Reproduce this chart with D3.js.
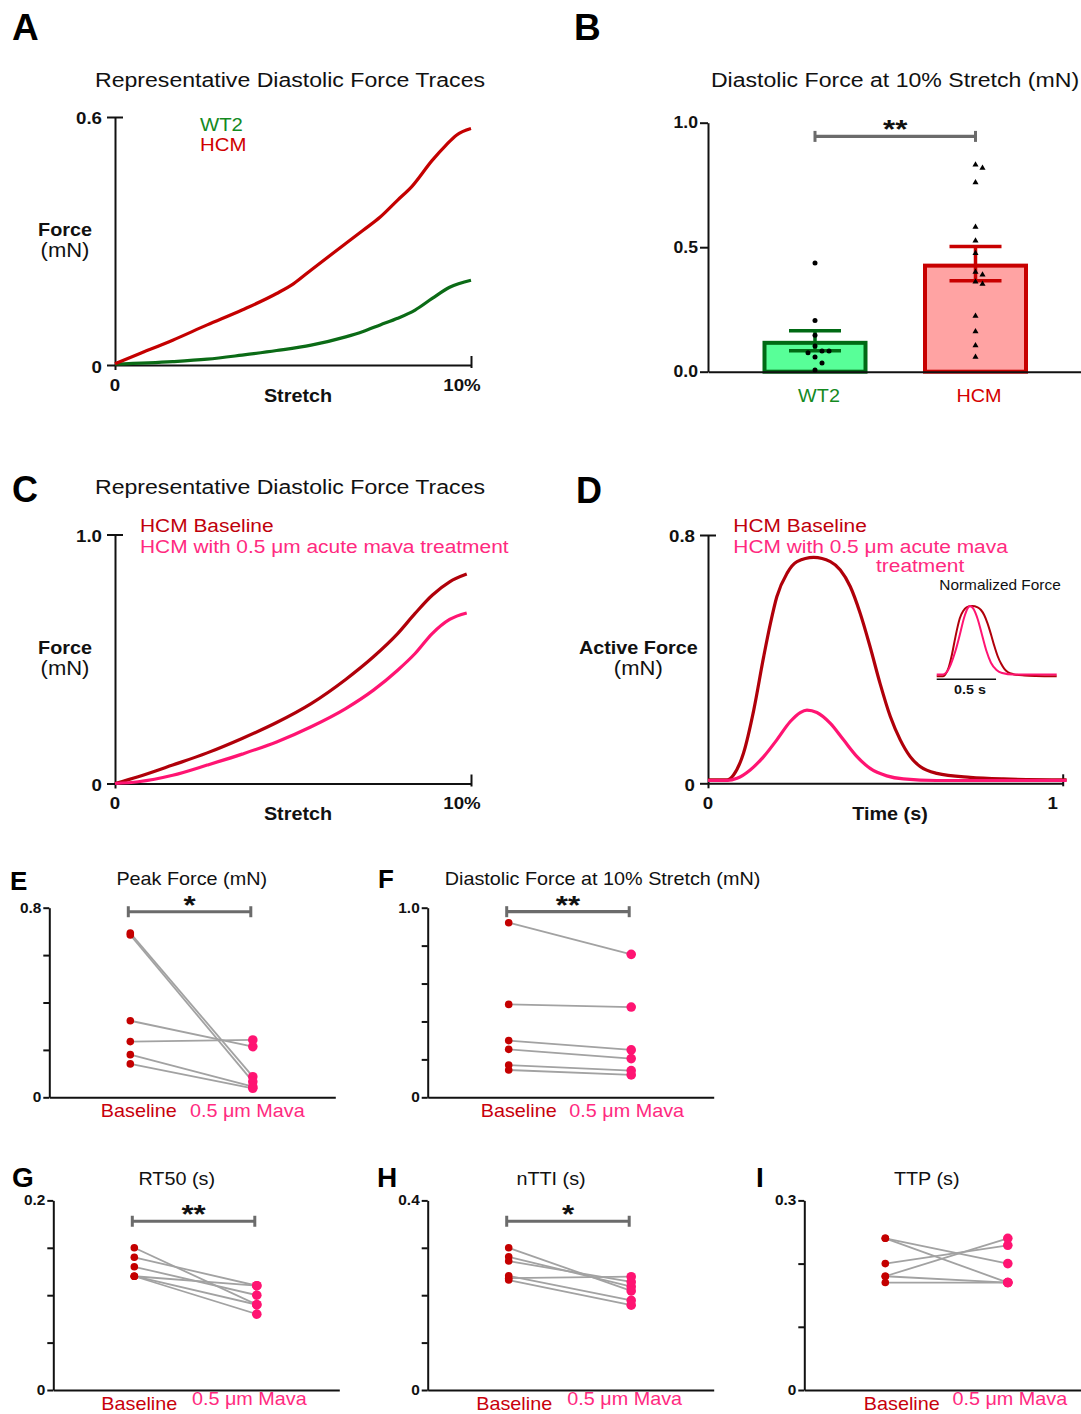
<!DOCTYPE html>
<html>
<head>
<meta charset="utf-8">
<script src="https://cdn.jsdelivr.net/npm/d3@7"></script>
<style>
  body { margin: 0; background: #fff; }
  svg { display: block; }
</style>
</head>
<body>
<script>
// ---- data ----

// A: representative diastolic force traces (stretch %, force mN)
const stretchA_hcm = [0, 0.65, 1.62, 2.59, 3.57, 4.54, 5.02, 5.51, 6.48, 6.97, 7.45, 7.94, 8.33, 8.91, 9.30, 9.59, 10.0];
const forceA_hcm   = [0.003, 0.026, 0.060, 0.097, 0.133, 0.173, 0.197, 0.230, 0.294, 0.326, 0.358, 0.399, 0.431, 0.495, 0.532, 0.556, 0.572];
const stretchA_wt  = [0, 1.62, 2.59, 3.57, 4.54, 5.51, 6.48, 6.97, 7.45, 7.94, 8.43, 8.91, 9.40, 10.0];
const forceA_wt    = [0.002, 0.008, 0.014, 0.024, 0.035, 0.048, 0.068, 0.081, 0.097, 0.113, 0.133, 0.161, 0.188, 0.205];

// B: diastolic force at 10% stretch
const groupsB = ["WT2", "HCM"];
const meanB = [0.124, 0.434];
const semB = [0.040, 0.069];
const wt2Points = [0.437, 0.206, 0.146, 0.103, 0.083, 0.076, 0.083, 0.059, 0.035, 0.007];
const hcmPoints = [0.831, 0.818, 0.760, 0.581, 0.526, 0.476, 0.400, 0.389, 0.361, 0.352, 0.224, 0.161, 0.105, 0.059];

// C: HCM baseline vs mava, diastolic traces
const stretchC = [0, 0.65, 1.62, 2.59, 3.57, 4.54, 5.51, 6.48, 7.26, 7.94, 8.43, 8.91, 9.40, 9.88];
const forceC_base = [0, 0.027, 0.074, 0.123, 0.181, 0.245, 0.321, 0.418, 0.509, 0.602, 0.683, 0.756, 0.810, 0.841];
const forceC_mava = [0, 0.007, 0.033, 0.074, 0.118, 0.167, 0.228, 0.301, 0.375, 0.455, 0.522, 0.602, 0.659, 0.685];

// D: active force twitch (time s, force mN)
const timeD_base  = [0, 0.054, 0.072, 0.100, 0.129, 0.157, 0.176, 0.194, 0.223, 0.251, 0.298, 0.345, 0.373, 0.401, 0.429, 0.457, 0.485, 0.514, 0.542, 0.570, 0.598, 0.645, 0.739, 0.833, 1.011];
const forceD_base = [0.011, 0.011, 0.027, 0.097, 0.236, 0.408, 0.515, 0.601, 0.677, 0.714, 0.728, 0.714, 0.687, 0.634, 0.548, 0.440, 0.322, 0.215, 0.140, 0.086, 0.054, 0.032, 0.019, 0.014, 0.011];
const timeD_mava  = [0, 0.054, 0.082, 0.119, 0.157, 0.194, 0.232, 0.260, 0.279, 0.307, 0.345, 0.382, 0.420, 0.457, 0.504, 0.551, 0.645, 1.011];
const forceD_mava = [0.009, 0.009, 0.016, 0.043, 0.086, 0.140, 0.199, 0.228, 0.236, 0.228, 0.193, 0.140, 0.086, 0.048, 0.024, 0.014, 0.009, 0.009];

// E-I: paired baseline / mava values
const pairLabels = ["Baseline", "0.5 μm Mava"];
const peakBase  = [0.693, 0.685, 0.323, 0.235, 0.180, 0.141];
const peakMava  = [0.087, 0.066, 0.214, 0.242, 0.045, 0.038];
const diastBase = [0.921, 0.490, 0.299, 0.253, 0.170, 0.144];
const diastMava = [0.754, 0.476, 0.250, 0.204, 0.141, 0.118];
const rt50Base  = [0.150, 0.140, 0.130, 0.120, 0.120, 0.120];
const rt50Mava  = [0.090, 0.110, 0.100, 0.110, 0.090, 0.080];
const nttiBase  = [0.300, 0.281, 0.272, 0.241, 0.236, 0.232];
const nttiMava  = [0.209, 0.218, 0.228, 0.189, 0.239, 0.179];
const ttpBase   = [0.240, 0.240, 0.200, 0.180, 0.180, 0.170];
const ttpMava   = [0.200, 0.170, 0.229, 0.240, 0.170, 0.170];

// ---- styling ----
const FONT = "'Liberation Sans', Arial, Helvetica, sans-serif";
const GREEN_LINE = "#0b6b16", GREEN_TXT = "#148a1f";
const RED = "#c40000", DARK_RED = "#b0000a", PINK = "#ff1472", PINK_TXT = "#ff2a80";
const GRAY = "#a2a2a2", SIG = "#6b6b6b";

const svg = d3.select("body").append("svg").attr("width", 1081).attr("height", 1414);

function text(g, x, y, s, o = {}) {
  return g.append("text")
    .attr("transform", `translate(${x},${y}) scale(${o.sx ?? 1.1},1)`)
    .attr("text-anchor", o.anchor || "middle")
    .style("font-family", FONT)
    .style("font-size", (o.size || 18) + "px")
    .style("font-weight", o.bold ? "bold" : "normal")
    .attr("fill", o.fill || "#111")
    .text(s);
}

function letter(x, y, s, size) {
  text(svg, x, y, s, { anchor: "start", size: size, bold: true, sx: 1, fill: "#000" });
}

function styleAxis(sel) {
  sel.selectAll("path, line").attr("stroke", "#111").attr("stroke-width", 2);
}

function sigBar(g, x1, x2, yy, stars) {
  g.append("line").attr("x1", x1).attr("x2", x2).attr("y1", yy).attr("y2", yy)
    .attr("stroke", SIG).attr("stroke-width", 3.2);
  [x1, x2].forEach(xx => g.append("line").attr("x1", xx).attr("x2", xx)
    .attr("y1", yy - 5.5).attr("y2", yy + 5.5).attr("stroke", SIG).attr("stroke-width", 3));
  text(g, (x1 + x2) / 2, yy + 2, stars, { size: 26, bold: true, sx: 1.2, fill: "#111" });
}

// ---- trace panels (A, C, D) ----
function tracePanel(o) {
  const g = svg.append("g");
  const x = d3.scaleLinear().domain([0, o.xmax]).range(o.xRange);
  const y = d3.scaleLinear().domain([0, o.ymax]).range([o.y0, o.ytop]);

  g.append("g").attr("transform", `translate(${o.xRange[0]},0)`)
    .call(d3.axisLeft(y).tickValues([0, o.ymax]).tickSize(8).tickSizeOuter(0).tickFormat(""))
    .call(styleAxis)
    .call(a => a.selectAll(".tick line").attr("x1", d => d === o.ymax ? 8 : 0));

  g.append("g").attr("transform", `translate(0,${o.y0})`)
    .call(d3.axisBottom(x).tickValues([0, o.xmax]).tickSize(5).tickSizeOuter(0).tickFormat(""))
    .call(styleAxis)
    .call(a => a.selectAll(".tick line").attr("y1", d => d === o.xmax ? -9 : 0).attr("y2", d => d === o.xmax ? 3 : 5));

  const line = d3.line().x(d => x(d[0])).y(d => y(d[1])).curve(d3.curveMonotoneX);
  o.series.forEach(s => {
    g.append("path").datum(d3.zip(s.x, s.y)).attr("d", line)
      .attr("fill", "none").attr("stroke", s.color).attr("stroke-width", 3.2)
      .attr("stroke-linejoin", "round");
  });

  const ax = o.xRange[0];
  text(g, ax - 13, y(o.ymax) + 7, o.ymaxLabel, { anchor: "end", size: 17, bold: true });
  text(g, ax - 13, y(0) + 7.5, "0", { anchor: "end", size: 17, bold: true });
  text(g, x(0), o.y0 + 25.5, "0", { size: 17, bold: true });
  text(g, x(o.xmax) - o.endShift, o.y0 + 25.5, o.xmaxLabel, { size: 17, bold: true });
  text(g, o.xTitleX, o.y0 + 36.5, o.xTitle, { size: 18, bold: true });
  text(g, o.yTitleX, o.y0 - 129.5, o.yTitle, { size: 18, bold: true });
  text(g, o.yTitleX, o.y0 - 108.5, "(mN)", { size: 20 });
  return { g, x, y };
}

// A
letter(12, 40, "A", 37);
text(svg, 290, 87, "Representative Diastolic Force Traces", { size: 21 });
tracePanel({
  xmax: 10, xRange: [115, 471], ymax: 0.6, y0: 365, ytop: 117,
  ymaxLabel: "0.6", xmaxLabel: "10%", endShift: 9,
  xTitle: "Stretch", xTitleX: 298, yTitle: "Force", yTitleX: 65,
  series: [
    { x: stretchA_wt, y: forceA_wt, color: GREEN_LINE },
    { x: stretchA_hcm, y: forceA_hcm, color: RED }
  ]
});
text(svg, 200, 130.7, "WT2", { anchor: "start", size: 18.5, fill: GREEN_TXT });
text(svg, 200, 150.5, "HCM", { anchor: "start", size: 18.5, fill: "#d00000" });

// C
letter(12, 501.7, "C", 36);
text(svg, 290, 494, "Representative Diastolic Force Traces", { size: 21 });
tracePanel({
  xmax: 10, xRange: [115, 471], ymax: 1.0, y0: 783.5, ytop: 534.5,
  ymaxLabel: "1.0", xmaxLabel: "10%", endShift: 9,
  xTitle: "Stretch", xTitleX: 298, yTitle: "Force", yTitleX: 65,
  series: [
    { x: stretchC, y: forceC_base, color: DARK_RED },
    { x: stretchC, y: forceC_mava, color: PINK }
  ]
});
text(svg, 140, 531.7, "HCM Baseline", { anchor: "start", size: 19, fill: "#c0000c" });
text(svg, 140, 552.7, "HCM with 0.5 μm acute mava treatment", { anchor: "start", size: 19, fill: PINK_TXT });

// D
letter(576, 502.7, "D", 36);
tracePanel({
  xmax: 1, xRange: [708, 1062.7], ymax: 0.8, y0: 783.3, ytop: 535,
  ymaxLabel: "0.8", xmaxLabel: "1", endShift: 10,
  xTitle: "Time (s)", xTitleX: 890, yTitle: "Active Force", yTitleX: 638.3,
  series: [
    { x: timeD_base, y: forceD_base, color: DARK_RED },
    { x: timeD_mava, y: forceD_mava, color: PINK }
  ]
});
text(svg, 733.3, 531.7, "HCM Baseline", { anchor: "start", size: 19, fill: "#c0000c" });
text(svg, 733.3, 552.7, "HCM with 0.5 μm acute mava", { anchor: "start", size: 19, fill: PINK_TXT });
text(svg, 876, 571.7, "treatment", { anchor: "start", size: 19, fill: PINK_TXT });

// D inset: same traces normalised to their own peak
{
  const g = svg.append("g");
  const xi = d3.scaleLinear().domain([0, 1]).range([936.7, 936.7 + 118.7]);
  const yi = d3.scaleLinear().domain([0, 1]).range([677.3, 606]);
  const lineI = d3.line().x(d => xi(d[0])).y(d => yi(d[1])).curve(d3.curveMonotoneX);
  [[timeD_base, forceD_base, DARK_RED], [timeD_mava, forceD_mava, PINK]].forEach(([t, f, c]) => {
    const peak = d3.max(f);
    g.append("path").datum(d3.zip(t, f.map(v => v / peak))).attr("d", lineI)
      .attr("fill", "none").attr("stroke", c).attr("stroke-width", 2);
  });
  g.append("line").attr("x1", xi(0)).attr("x2", xi(0.5)).attr("y1", yi(0) + 2).attr("y2", yi(0) + 2)
    .attr("stroke", "#111").attr("stroke-width", 1.5);
  text(g, xi(0.28), 694, "0.5 s", { size: 13, bold: true });
  text(g, 1000, 590, "Normalized Force", { size: 14 });
}

// ---- B: bar chart ----
letter(574, 40, "B", 37);
text(svg, 895, 87, "Diastolic Force at 10% Stretch (mN)", { size: 21 });
{
  const g = svg.append("g");
  const y = d3.scaleLinear().domain([0, 1]).range([371.7, 122.7]);
  const x = d3.scalePoint().domain(groupsB).range([815, 975.5]);
  const xl = d3.scaleLinear().domain([0, 1]).range([708, 1081]);
  const fills = ["#58ff98", "#ffa3a3"];
  const strokes = ["#006a14", "#c80000"];
  const bw = 101;

  g.append("g").attr("transform", "translate(708,0)")
    .call(d3.axisLeft(y).tickValues([0, 0.5, 1]).tickSize(8).tickSizeOuter(0).tickFormat(""))
    .call(styleAxis);

  const bars = groupsB.map((k, i) => ({ k, mean: meanB[i], sem: semB[i], fill: fills[i], stroke: strokes[i] }));
  g.selectAll(".bar").data(bars).join("rect").attr("class", "bar")
    .attr("x", d => x(d.k) - bw / 2).attr("width", bw)
    .attr("y", d => y(d.mean) + 2).attr("height", d => y(0) - y(d.mean) - 2)
    .attr("fill", d => d.fill).attr("stroke", d => d.stroke).attr("stroke-width", 4);

  g.append("g").attr("transform", "translate(0,371.7)")
    .call(d3.axisBottom(xl).tickValues([]).tickSizeOuter(0))
    .call(styleAxis);

  bars.forEach(d => {
    const cx = x(d.k);
    g.append("line").attr("x1", cx).attr("x2", cx).attr("y1", y(d.mean - d.sem)).attr("y2", y(d.mean + d.sem))
      .attr("stroke", d.stroke).attr("stroke-width", 3.5);
    [d.mean - d.sem, d.mean + d.sem].forEach(v => g.append("line")
      .attr("x1", cx - 26).attr("x2", cx + 26).attr("y1", y(v)).attr("y2", y(v))
      .attr("stroke", d.stroke).attr("stroke-width", 3.5));
  });

  function dodge(values, d) {
    const placed = [];
    return values.map(v => {
      const py = y(v);
      for (let k = 0; k < 20; k++) {
        const off = k === 0 ? 0 : (k % 2 ? 1 : -1) * Math.ceil(k / 2) * d;
        if (placed.every(p => Math.hypot(p[0] - off, p[1] - py) >= d)) { placed.push([off, py]); return off; }
      }
      return 0;
    });
  }
  const offW = dodge(wt2Points, 7);
  g.selectAll(".wt").data(wt2Points).join("circle").attr("class", "wt")
    .attr("cx", (d, i) => x("WT2") + offW[i]).attr("cy", d => y(d)).attr("r", 2.5).attr("fill", "#000");
  const offH = dodge(hcmPoints, 7);
  g.selectAll(".hcm").data(hcmPoints).join("path").attr("class", "hcm")
    .attr("transform", (d, i) => `translate(${x("HCM") + offH[i]},${y(d)})`)
    .attr("d", d3.symbol(d3.symbolTriangle, 16)).attr("fill", "#000");

  sigBar(g, x("WT2"), x("HCM"), y(0.945), "**");

  [0, 0.5, 1].forEach(v => text(g, 698, y(v) + 5.7, d3.format(".1f")(v), { anchor: "end", size: 16, bold: true }));
  text(g, 819, 401.7, "WT2", { size: 18, fill: GREEN_TXT });
  text(g, 979, 401.7, "HCM", { size: 18, fill: "#d40000" });
}

// ---- paired panels (E-I) ----
function pairedPanel(o) {
  const g = svg.append("g");
  const y = d3.scaleLinear().domain([0, o.ymax]).range([o.y0, o.y0 - 189.6]);
  const x = d3.scalePoint().domain(pairLabels).range([o.ax + 81, o.ax + 203.5]);
  const xl = d3.scaleLinear().domain([0, 1]).range([o.ax, o.ax + o.len]);

  g.append("g").attr("transform", `translate(${o.ax},0)`)
    .call(d3.axisLeft(y).tickValues(d3.range(0, o.ymax + 1e-9, o.step)).tickSize(6).tickSizeOuter(0).tickFormat(""))
    .call(styleAxis);
  g.append("g").attr("transform", `translate(0,${o.y0})`)
    .call(d3.axisBottom(xl).tickValues([]).tickSizeOuter(0))
    .call(styleAxis);

  const pairs = o.base.map((b, i) => ({ b, m: o.mava[i] }));
  g.selectAll(".pair").data(pairs).join("line").attr("class", "pair")
    .attr("x1", x(pairLabels[0])).attr("x2", x(pairLabels[1]))
    .attr("y1", d => y(d.b)).attr("y2", d => y(d.m))
    .attr("stroke", GRAY).attr("stroke-width", 1.8);
  g.selectAll(".pb").data(o.base).join("circle").attr("class", "pb")
    .attr("cx", x(pairLabels[0])).attr("cy", d => y(d)).attr("r", 3.8).attr("fill", RED);
  g.selectAll(".pm").data(o.mava).join("circle").attr("class", "pm")
    .attr("cx", x(pairLabels[1])).attr("cy", d => y(d)).attr("r", 4.8).attr("fill", PINK);

  if (o.sig) sigBar(g, x(pairLabels[0]) - 2, x(pairLabels[1]) - 2, y(o.sigV), o.sig);

  text(g, o.ax - 8, y(o.ymax) + 5, o.maxLabel, { anchor: "end", size: 14, bold: true });
  text(g, o.ax - 8, y(0) + 5, "0", { anchor: "end", size: 14, bold: true });
  text(g, o.titleX, o.titleY, o.title, { size: 18 });
  text(g, x(pairLabels[0]) + o.labDx[0], o.labY[0], pairLabels[0], { size: 18, fill: "#c8000c" });
  text(g, x(pairLabels[1]) + o.labDx[1], o.labY[1], pairLabels[1], { size: 18, fill: PINK_TXT });
}

letter(10, 890, "E", 26);
pairedPanel({ ax: 49.3, y0: 1097.3, len: 286, ymax: 0.8, step: 0.2, maxLabel: "0.8",
  title: "Peak Force (mN)", titleX: 191.7, titleY: 885, base: peakBase, mava: peakMava,
  sig: "*", sigV: 0.783, labDx: [8.5, -5.5], labY: [1116.7, 1116.7] });

letter(378, 888.3, "F", 26);
pairedPanel({ ax: 427.7, y0: 1097.3, len: 286, ymax: 1.0, step: 0.2, maxLabel: "1.0",
  title: "Diastolic Force at 10% Stretch (mN)", titleX: 602.5, titleY: 885, base: diastBase, mava: diastMava,
  sig: "**", sigV: 0.979, labDx: [10, -4.5], labY: [1116.7, 1116.7] });

letter(12, 1186.7, "G", 28);
pairedPanel({ ax: 53.3, y0: 1390, len: 286, ymax: 0.2, step: 0.05, maxLabel: "0.2",
  title: "RT50 (s)", titleX: 176.7, titleY: 1185, base: rt50Base, mava: rt50Mava,
  sig: "**", sigV: 0.178, labDx: [5, -7.5], labY: [1410, 1405] });

letter(377, 1186.7, "H", 28);
pairedPanel({ ax: 427.7, y0: 1390, len: 286, ymax: 0.4, step: 0.1, maxLabel: "0.4",
  title: "nTTI (s)", titleX: 551, titleY: 1185, base: nttiBase, mava: nttiMava,
  sig: "*", sigV: 0.356, labDx: [5.5, -6.5], labY: [1410, 1405] });

letter(756, 1186.7, "I", 28);
pairedPanel({ ax: 804.3, y0: 1390, len: 277, ymax: 0.3, step: 0.1, maxLabel: "0.3",
  title: "TTP (s)", titleX: 926.7, titleY: 1185, base: ttpBase, mava: ttpMava,
  sig: null, labDx: [16.5, 2], labY: [1410, 1405] });
</script>
</body>
</html>
